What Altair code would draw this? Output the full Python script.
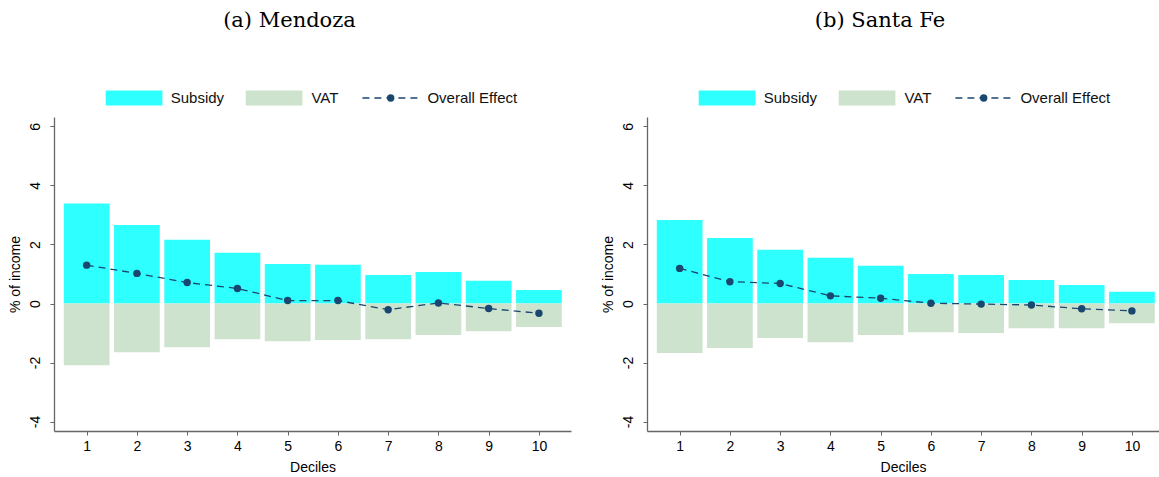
import altair as alt
import pandas as pd

deciles = [1, 2, 3, 4, 5, 6, 7, 8, 9, 10]
mendoza_subsidy = [3.39, 2.66, 2.16, 1.72, 1.34, 1.31, 0.97, 1.07, 0.77, 0.46]
mendoza_vat = [-2.09, -1.65, -1.48, -1.21, -1.28, -1.24, -1.21, -1.07, -0.94, -0.80]
mendoza_overall = [1.30, 1.02, 0.71, 0.51, 0.10, 0.10, -0.21, 0.02, -0.17, -0.33]
santafe_subsidy = [2.83, 2.22, 1.82, 1.55, 1.28, 1.00, 0.97, 0.80, 0.63, 0.40]
santafe_vat = [-1.68, -1.51, -1.17, -1.31, -1.07, -0.97, -1.00, -0.84, -0.84, -0.67]
santafe_overall = [1.19, 0.74, 0.68, 0.26, 0.18, 0.01, -0.02, -0.05, -0.18, -0.25]
panel_titles = ["(a) Mendoza", "(b) Santa Fe"]
legend_labels = ["Subsidy", "VAT", "Overall Effect"]
y_ticks = [-4, -2, 0, 2, 4, 6]

C_SUB = "#2effff"
C_VAT = "#cde3cd"
C_LINE = "#1a476f"
FONT = "Liberation Sans"
PLOT_H = 314
PX_PER_UNIT = 50.25
X_MIN = 0.35
HALF_W = 0.455


def panel(title, subsidy, vat, overall, width):
    df = pd.DataFrame({"decile": deciles, "subsidy": subsidy, "vat": vat, "overall": overall})
    xmax = X_MIN + width / PX_PER_UNIT
    xscale = alt.Scale(domain=[X_MIN, xmax], nice=False, zero=False)
    yscale = alt.Scale(domain=[-4.32, 6.32], nice=False, zero=False)
    xaxis = alt.Axis(values=deciles, title="Deciles", format="d", grid=False,
                     tickSize=4, labelPadding=4, titlePadding=7, labelFlush=False)
    yaxis = alt.Axis(values=y_ticks, title="% of income", grid=False, tickSize=4,
                     labelAngle=270, labelAlign="center", labelBaseline="bottom",
                     labelPadding=8, titlePadding=6, labelExpr="'' + datum.value")
    base = alt.Chart(df).transform_calculate(
        x0="datum.decile - %f" % HALF_W, x1="datum.decile + %f" % HALF_W, zero="0"
    )
    sub = base.mark_rect(color=C_SUB).encode(
        x=alt.X("x0:Q", scale=xscale, axis=xaxis), x2="x1:Q",
        y=alt.Y("subsidy:Q", scale=yscale, axis=yaxis), y2="zero:Q")
    vatb = base.mark_rect(color=C_VAT).encode(
        x=alt.X("x0:Q", scale=xscale), x2="x1:Q",
        y=alt.Y("vat:Q", scale=yscale), y2="zero:Q")
    line = base.mark_line(color=C_LINE, strokeDash=[7, 5], strokeWidth=1.3).encode(
        x=alt.X("decile:Q", scale=xscale), y=alt.Y("overall:Q", scale=yscale))
    pts = base.mark_point(filled=True, color=C_LINE, size=55, opacity=1).encode(
        x=alt.X("decile:Q", scale=xscale), y=alt.Y("overall:Q", scale=yscale))

    one = alt.Chart(pd.DataFrame({"k": [0]}))
    ly = -19
    lg = [
        one.mark_rect(color=C_SUB).encode(x=alt.value(51.7), x2=alt.value(108.4),
                                          y=alt.value(ly - 7.5), y2=alt.value(ly + 7.5)),
        one.mark_text(align="left", baseline="middle", fontSize=15, font=FONT, color="#111").encode(
            x=alt.value(116.7), y=alt.value(ly), text=alt.value(legend_labels[0])),
        one.mark_rect(color=C_VAT).encode(x=alt.value(191.7), x2=alt.value(248.4),
                                          y=alt.value(ly - 7.5), y2=alt.value(ly + 7.5)),
        one.mark_text(align="left", baseline="middle", fontSize=15, font=FONT, color="#111").encode(
            x=alt.value(257.4), y=alt.value(ly), text=alt.value(legend_labels[1])),
        one.mark_rule(color=C_LINE, strokeDash=[7, 5], strokeWidth=1.3).encode(
            x=alt.value(308.4), x2=alt.value(363.4), y=alt.value(ly)),
        one.mark_point(filled=True, color=C_LINE, size=55, opacity=1).encode(
            x=alt.value(336.7), y=alt.value(ly)),
        one.mark_text(align="left", baseline="middle", fontSize=15, font=FONT, color="#111").encode(
            x=alt.value(373.4), y=alt.value(ly), text=alt.value(legend_labels[2])),
    ]
    return alt.layer(sub, vatb, line, pts, *lg).properties(
        width=width, height=PLOT_H,
        title=alt.TitleParams(text=title, font="DejaVu Serif", fontSize=21, fontWeight="normal",
                              color="#000", frame="bounds", anchor="middle", offset=60),
    )


left = panel(panel_titles[0], mendoza_subsidy, mendoza_vat, mendoza_overall, 517)
right = panel(panel_titles[1], santafe_subsidy, santafe_vat, santafe_overall, 512)

chart = alt.hconcat(left, right, spacing=29).configure_view(stroke=None).configure_axis(
    domainColor="#666", tickColor="#666", labelColor="#000", titleColor="#000",
    labelFont=FONT, titleFont=FONT, labelFontSize=14, titleFontSize=14,
    titleFontWeight="normal", domainWidth=1.3,
).properties(padding={"left": 7, "top": 9, "right": 0, "bottom": 0})

chart.save("out.html", embed_options={"renderer": "svg", "actions": False})
